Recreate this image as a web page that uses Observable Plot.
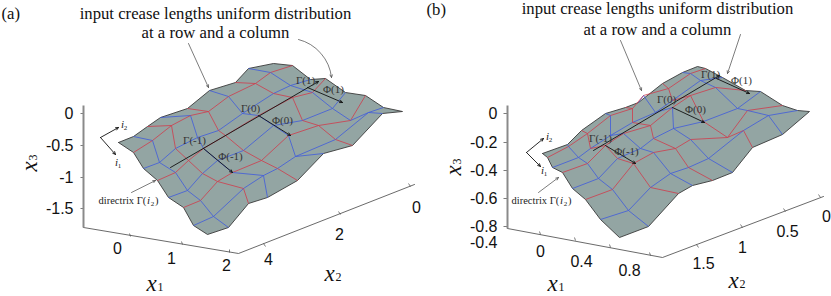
<!DOCTYPE html>
<html><head><meta charset="utf-8">
<script src="https://cdn.jsdelivr.net/npm/d3@7"></script>
<script src="https://cdn.jsdelivr.net/npm/@observablehq/plot@0.6"></script>
<style>html,body{margin:0;padding:0;background:#fff}svg{display:block}</style>
</head><body><div id="chart"></div>
<script>
// Crease-pattern nodes, [across, down] in the figure's plane
const meshA = [
 [[118,142],[133,136],[147,126],[160,117],[187,108],[209,90],[235,82],[248,68],[273,63]],
 [[133,152],[152,140],[171,125],[190,115],[208,111],[228,96],[255,83],[270,72],[292,65]],
 [[143,168],[159,162],[175,148],[197,137],[218,130],[242,113],[273,93],[290,85],[310,79]],
 [[157,180],[175,172],[188,160],[203,148],[225,135],[258,115],[292,97],[312,92],[325,78]],
 [[168,197],[187,190],[202,173],[217,160],[243,150],[273,125],[302,120],[332,108],[345,92]],
 [[183,207],[200,200],[217,181],[232,172],[261,160],[288,135],[318,125],[350,120],[365,95]],
 [[193,225],[213,216],[243,188],[263,175],[277,168],[295,156],[335,139],[368,112],[383,107]],
 [[207,234],[228,227],[248,203],[267,197],[297,180],[323,153],[352,145],[382,113],[402,111]]
];
const meshB = [
 [[542,153],[567,144],[581,130],[605,113],[625,107],[638,102],[662,83],[682,72],[697,66]],
 [[547,157],[568,146],[587,133],[610,115],[632,108],[643,95],[668,88],[690,73],[705,68]],
 [[552,167],[578,157],[590,148],[610,135],[632,122],[655,112],[672,100],[700,80],[722,77]],
 [[562,172],[587,163],[605,145],[623,133],[650,125],[672,107],[690,95],[715,87],[745,90]],
 [[572,188],[598,178],[617,158],[640,148],[653,138],[673,128],[703,121],[737,108],[760,91]],
 [[585,199],[612,189],[633,163],[653,152],[675,148],[690,139],[727,137],[747,110],[782,105]],
 [[600,219],[628,210],[650,187],[670,173],[688,167],[708,158],[743,130],[768,115],[797,110]],
 [[619,237],[648,226],[678,193],[692,185],[712,180],[732,172],[752,147],[782,134],[809,111]]
];
const baseLines = [
 [[83,227],[238,253],[414,184]],
 [[507,228],[662,257],[823,196]]
];
const wall = [[83,105,83,227],[507,105,507,228]];
const tickTexts = [
 ["0",73,113],["-0.5",73,145],["-1",73,177],["-1.5",73,208],
 ["0",497,113],["-0.2",497,142],["-0.4",497,170],["-0.6",497,198],["-0.8",497,226],["-0.4",497,242]
];
const floorTexts = [
 ["0",117,248],["1",171,258],["2",226,265],["4",268,259],["2",339,234],["0",416,207],
 ["0",540,251],["0.4",581,261],["0.8",629,270],["1.5",703,263],["1",742,247],["0.5",787,231],["0",826,216]
];
const tickMarks = [
 [80,113,83,113],[80,145,83,145],[80,177,83,177],[80,208,83,208],
 [503,113,507,113],[503,142,507,142],[503,170,507,170],[503,198,507,198],[503,226,507,226],
 [130,236,129,233],[182,244,181,241],[229,252,229,249],[263,243,265,246],[340,214,338,211],[410,186,408,183],
 [540,234,539,231],[575,240,574,237],[610,247,609,244],[650,255,649,252],[696,244,698,247],[742,227,740,224],[785,211,783,208],[820,197,818,194]
];
const captionsLeft = [["(a)",1,13],["(b)",426,9]];
const captionsMid = [
 ["input crease lengths uniform distribution",215,13],
 ["at a row and a column",215,32],
 ["input crease lengths uniform distribution",657,8],
 ["at a row and a column",657,29]
];
const directrixText = [["directrix Γ(",98,200],["directrix Γ(",511,200]];
const closeParen = [[")",158,200],[")",571,200]];
const crease = [
 ["Γ(-1)",194,140],["Φ(-1)",230,156],["Γ(0)",250,108],["Φ(0)",282,120],["Γ(1)",305,80],["Φ(1)",333,89],
 ["Γ(-1)",600,138],["Φ(-1)",626,151],["Γ(0)",666,99],["Φ(0)",695,109],["Γ(1)",710,74],["Φ(1)",741,80]
];
const italics = [["i",122,124],["i",116,162],["i",148,200],["i",547,136],["i",542,170],["i",561,200]];
const subs = [["2",125,127],["1",119,165],["2",152,203],["2",550,139],["1",545,173],["2",565,203]];
const axisNames = [["x",151,283,0],["x",329,273,0],["x",29,166,-90],["x",552,283,0],["x",733,280,0],["x",453,170,-90]];
const axisSubs = [["1",160,287,0],["2",338,277,0],["3",33,157,-90],["1",561,287,0],["2",742,284,0],["3",457,161,-90]];
const blackArrows = [
 [170,167,318,81],[203,148,232,172],[258,115,290,135],[307,87,342,102],
 [100,137,118,127],[100,137,115,154],
 [593,150,719,75],[605,145,635,163],[672,107,704,122],[716,78,749,93],
 [526,152,543,138],[526,152,540,166]
];
const grayArrows = [[188,43,208,87],[131,192,155,180],[620,40,641,90],[740,34,727,73],[538,192,558,177]];
const curved = [[298,39,331,77]];

function links(mesh){
  const out = [];
  mesh.forEach((row,i)=>row.forEach((p,j)=>{
    if(j<row.length-1 && i>0 && i<mesh.length-1) out.push({a:p,b:row[j+1],c:i%2?"#cf3b4b":"#3f5bdc"});
    if(i<mesh.length-1 && j>0 && j<row.length-1) out.push({a:p,b:mesh[i+1][j],c:j%2?"#3f5bdc":"#cf3b4b"});
  }));
  return out;
}
function outline(mesh){
  const n=mesh.length-1;
  return [...mesh[0],...mesh.map(r=>r[r.length-1]).slice(1),...[...mesh[n]].reverse().slice(1),...mesh.map(r=>r[0]).reverse().slice(1)];
}
const serif="Liberation Serif", sans="Liberation Sans";
const X=d=>d[0], Y=d=>d[1];
const seg={x1:d=>d[0],y1:d=>d[1],x2:d=>d[2],y2:d=>d[3]};
const lab={x:d=>d[1],y:d=>d[2],text:d=>d[0]};
const fig = Plot.plot({
  width:831,height:296,margin:0,
  x:{domain:[0,831],range:[0,831],axis:null},
  y:{domain:[0,296],range:[0,296],axis:null},
  marks:[
    ...baseLines.map(l=>Plot.line(l,{x:X,y:Y,stroke:"#444",strokeWidth:0.8})),
    Plot.link(tickMarks,{...seg,stroke:"#444",strokeWidth:0.7}),
    Plot.link(wall,{...seg,stroke:"#8a8a8a",strokeWidth:2}),
    ...[meshA,meshB].flatMap(m=>[
      Plot.line([...outline(m),m[0][0]],{x:X,y:Y,fill:"#93a5a3",stroke:"#3a3a3a",strokeWidth:0.9}),
      Plot.link(links(m),{x1:d=>d.a[0],y1:d=>d.a[1],x2:d=>d.b[0],y2:d=>d.b[1],stroke:d=>d.c,strokeWidth:0.8})
    ]),
    Plot.arrow(blackArrows,{...seg,stroke:"#111",strokeWidth:0.9,headLength:5,headAngle:50}),
    Plot.arrow(grayArrows,{...seg,stroke:"#444",strokeWidth:0.7,headLength:6,headAngle:50}),
    Plot.arrow(curved,{...seg,bend:35,stroke:"#444",strokeWidth:0.7,headLength:6,headAngle:50}),
    Plot.text(captionsLeft,{...lab,textAnchor:"start",fontFamily:serif,fontSize:16.7,fill:"#111"}),
    Plot.text(captionsMid,{...lab,fontFamily:serif,fontSize:16.7,fill:"#111"}),
    Plot.text(directrixText,{...lab,textAnchor:"start",fontFamily:serif,fontSize:10.5,fill:"#222"}),
    Plot.text(closeParen,{...lab,textAnchor:"end",fontFamily:serif,fontSize:10.5,fill:"#222"}),
    Plot.text(crease,{...lab,fontFamily:serif,fontSize:11,fill:"#333"}),
    Plot.text(italics,{...lab,fontFamily:serif,fontStyle:"italic",fontSize:11,fill:"#222"}),
    Plot.text(subs,{...lab,fontFamily:serif,fontSize:7,fill:"#222"}),
    Plot.text(tickTexts,{...lab,textAnchor:"end",fontFamily:sans,fontSize:16,fill:"#111"}),
    Plot.text(floorTexts,{...lab,fontFamily:sans,fontSize:16,fill:"#111"}),
    ...axisNames.map(d=>Plot.text([d],{...lab,rotate:d[3],fontFamily:serif,fontStyle:"italic",fontSize:23,fill:"#111"})),
    ...axisSubs.map(d=>Plot.text([d],{...lab,rotate:d[3],fontFamily:serif,fontSize:12,fill:"#111"}))
  ]
});
document.getElementById("chart").append(fig);
</script></body></html>
